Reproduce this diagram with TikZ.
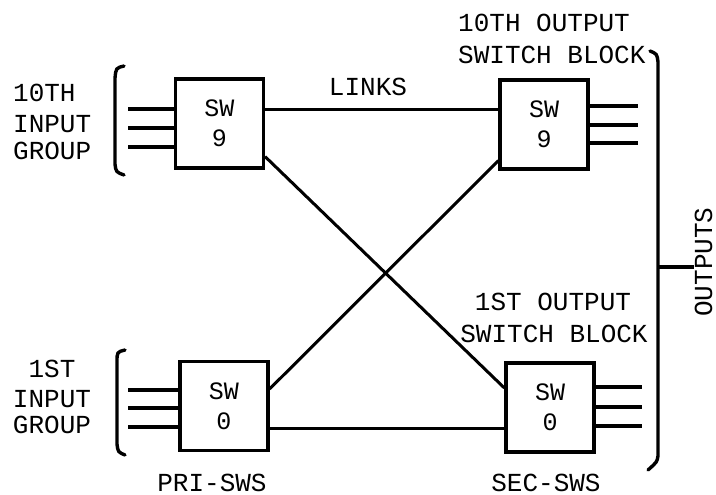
\documentclass[tikz,border=0pt]{standalone}
\usepackage{fontspec}
\setmonofont{Liberation Mono}
\begin{document}
\begin{tikzpicture}[x=1pt,y=-1pt,
  ln/.style={line width=3pt},
  br/.style={line width=3.4pt,line cap=round},
  swbox/.style={draw,line width=3.2pt,minimum width=88pt,minimum height=89pt,inner sep=0pt,
     align=center,font=\ttfamily\fontsize{25}{30}\selectfont},
  lbl/.style={inner sep=0pt,text height=15pt,text depth=1pt,font=\ttfamily\fontsize{26}{30}\selectfont}]
\useasboundingbox (0,0) rectangle (716,495);
% switches
\node[swbox] (s9a) at (219.5,123.5) {SW\\9};
\node[swbox] (s0a) at (224,406) {SW\\0};
\node[swbox] (s9b) at (544,124.5) {SW\\9};
\node[swbox] (s0b) at (550,407.5) {SW\\0};
% input/output coordinates
\coordinate (i1) at (128,109);
\coordinate (i2) at (128,128);
\coordinate (i3) at (128,147);
\coordinate (j1) at (128,390);
\coordinate (j2) at (128,408);
\coordinate (j3) at (128,427);
\coordinate (o1) at (638,106);
\coordinate (o2) at (638,125);
\coordinate (o3) at (638,143);
\coordinate (p1) at (642,387);
\coordinate (p2) at (642,407);
\coordinate (p3) at (642,426);
\foreach \c in {i1,i2,i3} \draw[line width=3.6pt] (\c) -- (\c -| s9a.west);
\foreach \c in {j1,j2,j3} \draw[line width=3.6pt] (\c) -- (\c -| s0a.west);
\foreach \c in {o1,o2,o3} \draw[line width=3.6pt] (\c -| s9b.east) -- (\c);
\foreach \c in {p1,p2,p3} \draw[line width=3.6pt] (\c -| s0b.east) -- (\c);
% links
\draw[ln] ([yshift=13.5pt]s9a.east) -- ([yshift=13.5pt]s9a.east -| s9b.west);
\draw[ln] ([yshift=-22pt]s0a.east) -- ([yshift=-22pt]s0a.east -| s0b.west);
\draw[ln] ([yshift=13pt]s9a.south east) -- ([yshift=19.5pt]s0b.west);
\draw[ln] ([yshift=17pt]s0a.east) -- ([yshift=10pt]s9b.south west);
% brackets
\draw[br] (124,66) .. controls (116,68) .. (115,78) -- (115,164) .. controls (116,172) .. (124,175);
\draw[br] (125,350) .. controls (117,352) .. (117,362) -- (117,444) .. controls (118,452) .. (125,455);
\draw[br] (650,51) .. controls (657,54) .. (658,62) -- (658,456) .. controls (657,462) .. (648,470);
\coordinate (ot) at (694,267);
\draw[line width=3.6pt] (658,267) -- (ot);
% labels
\node[lbl,anchor=base west] (t1) at (13,102) {10TH};
\node[lbl,anchor=base west] (t2) at (13,133) {INPUT};
\node[lbl,anchor=base west] (t3) at (13,160) {GROUP};
\node[lbl,anchor=base] (b1) at (52,377) {1ST};
\node[lbl,anchor=base] (b2) at (52,407) {INPUT};
\node[lbl,anchor=base] (b3) at (52,433) {GROUP};
\node[lbl,anchor=base west] (r1) at (458,32) {10TH OUTPUT};
\node[lbl,anchor=base west] (r2) at (458,64) {SWITCH BLOCK};
\node[lbl,anchor=base] (q1) at (553,310) {1ST OUTPUT};
\node[lbl,anchor=base] (q2) at (554,342) {SWITCH BLOCK};
\node[lbl,anchor=base] (lk) at (368,96) {LINKS};
\node[lbl,anchor=base] (pri) at (212,491) {PRI-SWS};
\node[lbl,anchor=base] (sec) at (546,491) {SEC-SWS};
\node[lbl,rotate=90] (outs) at (705,262) {OUTPUTS};
\end{tikzpicture}
\end{document}
